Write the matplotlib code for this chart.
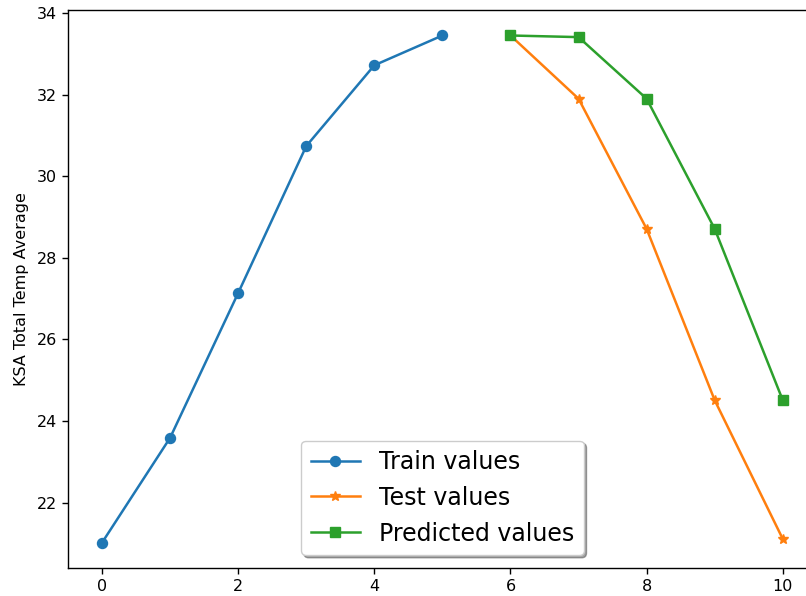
import matplotlib
matplotlib.use("Agg")
import matplotlib.pyplot as plt

# Datos
train_x = [0, 1, 2, 3, 4, 5]
train_y = [21.02, 23.59, 27.14, 30.74, 32.72, 33.45]

test_x = [6, 7, 8, 9, 10]
test_y = [33.45, 31.9, 28.71, 24.51, 21.11]

pred_x = [6, 7, 8, 9, 10]
pred_y = [33.45, 33.41, 31.9, 28.71, 24.51]

# el original parece ampliado ~1.2x
plt.rcParams.update({
    'font.size': 11.5,
    'lines.linewidth': 1.8,
    'lines.markersize': 7.2,
    'axes.linewidth': 1.0,
    'xtick.major.size': 4.2,
    'ytick.major.size': 4.2,
    'xtick.major.width': 1.0,
    'ytick.major.width': 1.0,
})

fig = plt.figure(figsize=(8.06, 5.96), dpi=100)
# recortado a la derecha como en el original
ax = fig.add_axes([0.0844, 0.047, 0.929, 0.936])

ax.plot(train_x, train_y, marker='o', label='Train values')
ax.plot(test_x, test_y, marker='*', label='Test values')
ax.plot(pred_x, pred_y, marker='s', label='Predicted values')

ax.set_ylabel('KSA Total Temp Average', labelpad=6)
ax.legend(loc='lower center', fontsize=17, shadow=True, borderaxespad=0.55,
          handlelength=2.1)

fig.savefig('out.png', dpi=100)
